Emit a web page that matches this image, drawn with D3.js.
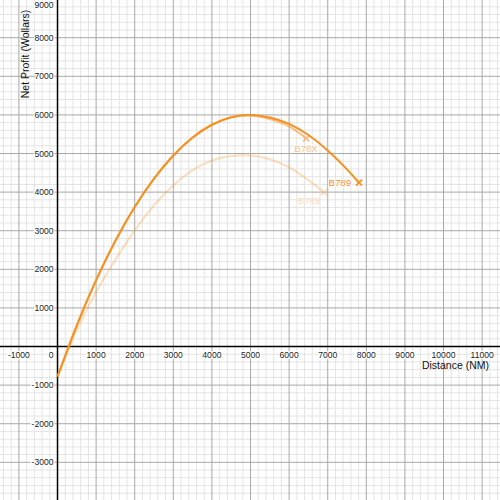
<!DOCTYPE html>
<html>
<head>
<meta charset="utf-8">
<script src="https://cdn.jsdelivr.net/npm/d3@7"></script>
<style>
  body { margin: 0; background: #fff; }
  svg { display: block; font-family: "Liberation Sans", Arial, sans-serif; }
</style>
</head>
<body>
<div id="plot"></div>
<script>
// values (distance in NM, net profit in Wollars)
const b789Distance = [0, 500, 1000, 1500, 2000, 2500, 3000, 3500, 4000, 4500, 5000, 5500, 6000, 6500, 7000, 7500, 7810];
const b789Profit   = [-780, 550, 1720, 2740, 3615, 4350, 4950, 5415, 5745, 5940, 6000, 5935, 5770, 5480, 5080, 4590, 4243];

const b78xDistance = [0, 500, 1000, 1500, 2000, 2500, 3000, 3500, 4000, 4500, 5000, 5500, 6000, 6438];
const b78xProfit   = [-780, 550, 1720, 2740, 3615, 4350, 4950, 5415, 5745, 5940, 5985, 5895, 5700, 5394];

const b788Distance = [0, 500, 1000, 1500, 2000, 2500, 3000, 3500, 4000, 4500, 5000, 5500, 6000, 6500, 6904];
const b788Profit   = [-780, 430, 1420, 2250, 3010, 3660, 4180, 4570, 4820, 4935, 4950, 4850, 4640, 4310, 3995];

const xTicks = [-1000, 1000, 2000, 3000, 4000, 5000, 6000, 7000, 8000, 9000, 10000, 11000];
const yTicks = [-3000, -2000, -1000, 1000, 2000, 3000, 4000, 5000, 6000, 7000, 8000, 9000];

const seriesNames = ["B788", "B78X", "B789"];

const width = 500, height = 500;
const orange = "#f7901e";

const x = d3.scaleLinear().domain([-1490, 11463]).range([0, width]);
const y = d3.scaleLinear().domain([-3976, 8977]).range([height, 0]);

const svg = d3.select("#plot")
  .append("svg")
  .attr("width", width)
  .attr("height", height);

// minor grid every 200, major every 1000
const minorX = d3.range(-1400, 11500, 200).filter(v => v % 1000 !== 0);
const minorY = d3.range(-3800, 9000, 200).filter(v => v % 1000 !== 0);
const majorX = d3.range(-1000, 11500, 1000).filter(v => v !== 0);
const majorY = d3.range(-3000, 9000, 1000).filter(v => v !== 0);

const grid = svg.append("g");
grid.selectAll(".mx").data(minorX).enter().append("line")
  .attr("x1", d => x(d)).attr("x2", d => x(d))
  .attr("y1", 0).attr("y2", height)
  .attr("stroke", "#e4e4e4").attr("stroke-width", 1);
grid.selectAll(".my").data(minorY).enter().append("line")
  .attr("y1", d => y(d)).attr("y2", d => y(d))
  .attr("x1", 0).attr("x2", width)
  .attr("stroke", "#e4e4e4").attr("stroke-width", 1);
grid.selectAll(".Mx").data(majorX).enter().append("line")
  .attr("x1", d => x(d)).attr("x2", d => x(d))
  .attr("y1", 0).attr("y2", height)
  .attr("stroke", "#a8a8a8").attr("stroke-width", 1);
grid.selectAll(".My").data(majorY).enter().append("line")
  .attr("y1", d => y(d)).attr("y2", d => y(d))
  .attr("x1", 0).attr("x2", width)
  .attr("stroke", "#a8a8a8").attr("stroke-width", 1);

// axes
svg.append("line")
  .attr("x1", 0).attr("x2", width)
  .attr("y1", y(0)).attr("y2", y(0))
  .attr("stroke", "#000").attr("stroke-width", 1.5);
svg.append("line")
  .attr("x1", x(0)).attr("x2", x(0))
  .attr("y1", 0).attr("y2", height)
  .attr("stroke", "#000").attr("stroke-width", 1.5);

const labels = svg.append("g")
  .attr("font-size", 8.6)
  .attr("fill", "#222")
  .attr("stroke", "#fff")
  .attr("stroke-width", 2.5)
  .attr("paint-order", "stroke");

labels.selectAll(".xt").data(xTicks).enter().append("text")
  .attr("x", d => x(d))
  .attr("y", y(0) + 11)
  .attr("text-anchor", "middle")
  .text(d => d);

labels.selectAll(".yt").data(yTicks).enter().append("text")
  .attr("x", x(0) - 4)
  .attr("y", d => Math.max(y(d) + 3, 8))
  .attr("text-anchor", "end")
  .text(d => d);

labels.append("text")
  .attr("x", x(0) - 4)
  .attr("y", y(0) + 11)
  .attr("text-anchor", "end")
  .text(0);

// axis titles
svg.append("text")
  .attr("x", 489)
  .attr("y", y(0) + 22)
  .attr("text-anchor", "end")
  .attr("font-size", 10.5)
  .attr("fill", "#111")
  .text("Distance (NM)");

svg.append("text")
  .attr("transform", `translate(29,54) rotate(-90)`)
  .attr("text-anchor", "middle")
  .attr("font-size", 10.5)
  .attr("fill", "#111")
  .text("Net Profit (Wollars)");

// curves
const series = [
  { name: seriesNames[0], xs: b788Distance, ys: b788Profit, opacity: 0.28, dx: -15, dy: 12, anchor: "middle" },
  { name: seriesNames[1], xs: b78xDistance, ys: b78xProfit, opacity: 0.55, dx: 0, dy: 14, anchor: "middle" },
  { name: seriesNames[2], xs: b789Distance, ys: b789Profit, opacity: 1, dx: -8, dy: 3.5, anchor: "end" }
];

const line = d3.line()
  .x(d => x(d[0]))
  .y(d => y(d[1]))
  .curve(d3.curveNatural);

series.forEach(s => {
  const pts = s.xs.map((v, i) => [v, s.ys[i]]);
  const g = svg.append("g").attr("opacity", s.opacity);
  g.append("path")
    .datum(pts)
    .attr("d", line)
    .attr("fill", "none")
    .attr("stroke", orange)
    .attr("stroke-width", 2);

  const last = pts[pts.length - 1];
  const px = x(last[0]), py = y(last[1]);
  const r = 3;
  g.append("path")
    .attr("d", `M${px - r},${py - r}L${px + r},${py + r}M${px - r},${py + r}L${px + r},${py - r}`)
    .attr("stroke", orange)
    .attr("stroke-width", 1.8);

  g.append("text")
    .attr("x", px + s.dx)
    .attr("y", py + s.dy)
    .attr("text-anchor", s.anchor)
    .attr("font-size", 9.6)
    .attr("fill", orange)
    .attr("stroke", "#fff")
    .attr("stroke-width", 2)
    .attr("paint-order", "stroke")
    .text(s.name);
});
</script>
</body>
</html>
